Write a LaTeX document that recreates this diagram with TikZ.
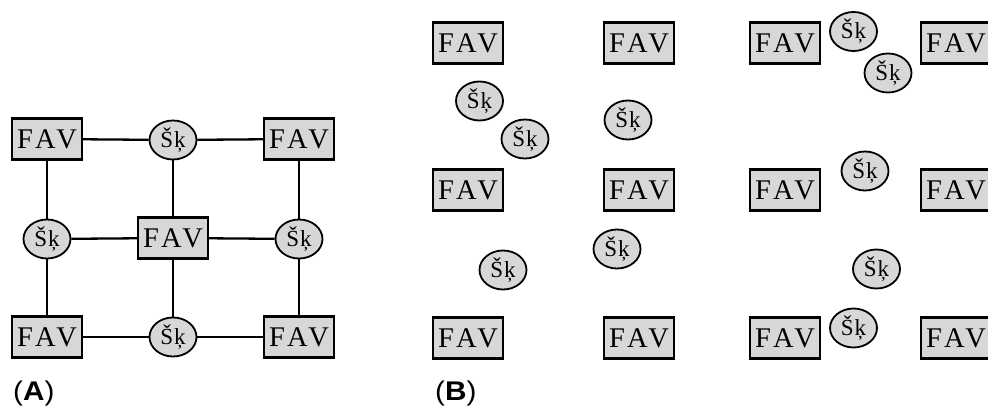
\documentclass[tikz,border=0pt]{standalone}
\usepackage{fontspec}
\setmainfont{Liberation Serif}
\newfontfamily\labfont{Liberation Sans}
\newfontfamily\favfont[LetterSpace=15]{Liberation Serif}
\newfontfamily\skfont[LetterSpace=4]{Liberation Serif}
\usetikzlibrary{shapes.geometric}
\definecolor{boxgray}{RGB}{215,215,215}
\tikzset{
  fav/.style={draw=black, line width=2.4pt, fill=boxgray, rectangle,
    minimum width=70pt, minimum height=41pt, inner sep=0pt,
    font=\favfont\fontsize{28.5pt}{28.5pt}\selectfont},
  sk/.style={draw=black, line width=1.8pt, fill=boxgray, ellipse,
    minimum width=47pt, minimum height=39pt, inner sep=0pt,
    font=\skfont\fontsize{23pt}{23pt}\selectfont},
  link/.style={draw=black, line width=2.3pt},
  panel/.style={anchor=base west, font=\labfont\fontsize{27pt}{27pt}\selectfont, inner sep=0pt, xscale=1.1}
}
\begin{document}
\begin{tikzpicture}[x=1pt,y=-1pt]
\useasboundingbox (0,0) rectangle (988,406);
% Panel A
\node[fav] (a1) at (47,139) {FAV};
\node[fav] (a2) at (299,139) {FAV};
\node[fav] (ac) at (173,238) {FAV};
\node[fav] (a4) at (47,337) {FAV};
\node[fav] (a5) at (299,337) {FAV};
\node[sk] (st) at (173,140) {Šķ};
\node[sk] (sl) at (47,239) {Šķ};
\node[sk] (sr) at (299,239) {Šķ};
\node[sk] (sb) at (173,337) {Šķ};
\draw[link] (a1) -- (st) -- (a2);
\draw[link] (a1) -- (sl) -- (a4);
\draw[link] (a2) -- (sr) -- (a5);
\draw[link] (a4) -- (sb) -- (a5);
\draw[link] (st) -- (ac) -- (sb);
\draw[link] (sl) -- (ac) -- (sr);
% Panel B
\node[fav] (b11) at (468,43) {FAV};
\node[fav] (b12) at (639,43) {FAV};
\node[fav] (b13) at (785,43) {FAV};
\node[fav] (b14) at (956,43) {FAV};
\node[fav] (b21) at (468,190) {FAV};
\node[fav] (b22) at (639,190) {FAV};
\node[fav] (b23) at (785,190) {FAV};
\node[fav] (b24) at (956,190) {FAV};
\node[fav] (b31) at (468,338) {FAV};
\node[fav] (b32) at (639,338) {FAV};
\node[fav] (b33) at (785,338) {FAV};
\node[fav] (b34) at (956,338) {FAV};
\node[sk] (k1) at (479.5,101) {Šķ};
\node[sk] (k2) at (525,139) {Šķ};
\node[sk] (k3) at (628,120) {Šķ};
\node[sk] (k4) at (503,270) {Šķ};
\node[sk] (k5) at (617,249) {Šķ};
\node[sk] (k6) at (853.5,31.5) {Šķ};
\node[sk] (k7) at (888,73) {Šķ};
\node[sk] (k8) at (865,171) {Šķ};
\node[sk] (k9) at (876.5,269) {Šķ};
\node[sk] (k10) at (853.5,328) {Šķ};
% labels
\node[panel] (la) at (13,400) {(\textbf{A})};
\node[panel] (lb) at (435,400) {(\textbf{B})};
\end{tikzpicture}
\end{document}
